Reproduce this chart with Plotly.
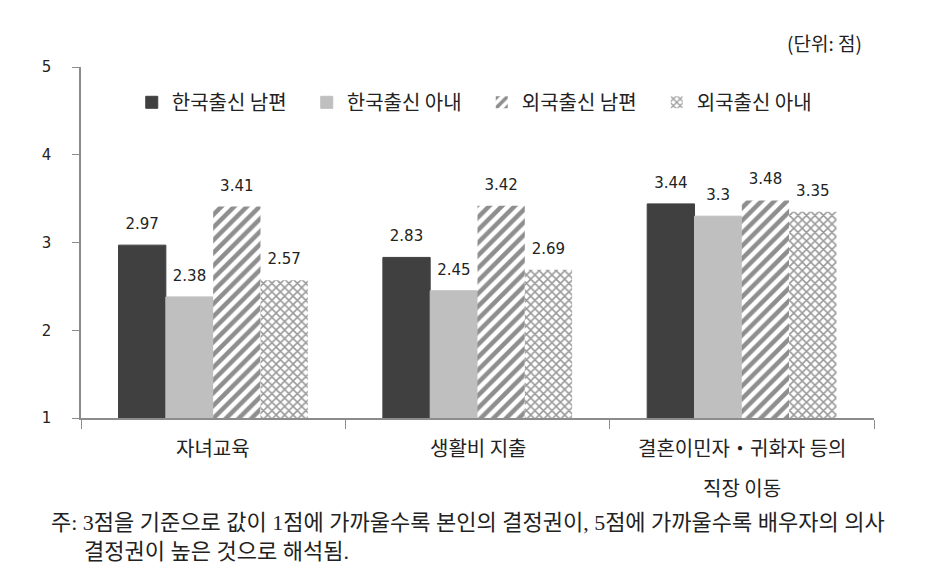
import plotly.graph_objects as go

categories = ["자녀교육", "생활비 지출", "결혼이민자・귀화자 등의 직장 이동"]
category_lines = [["자녀교육"], ["생활비 지출"], ["결혼이민자・귀화자 등의", "직장 이동"]]
series_names = ["한국출신 남편", "한국출신 아내", "외국출신 남편", "외국출신 아내"]
values_kr_husband = [2.97, 2.83, 3.44]
values_kr_wife = [2.38, 2.45, 3.30]
values_fr_husband = [3.41, 3.42, 3.48]
values_fr_wife = [2.57, 2.69, 3.35]
value_labels = [
    ["2.97", "2.83", "3.44"],
    ["2.38", "2.45", "3.3"],
    ["3.41", "3.42", "3.48"],
    ["2.57", "2.69", "3.35"],
]
y_ticks = [1, 2, 3, 4, 5]
unit_label = "(단위: 점)"
footnote_lines = [
    "주: 3점을 기준으로 값이 1점에 가까울수록 본인의 결정권이, 5점에 가까울수록 배우자의 의사",
    "      결정권이 높은 것으로 해석됨.",
]

FONT = "Noto Sans CJK KR, Noto Sans, sans-serif"
NUM = "DejaVu Sans, sans-serif"
SERIF = "Liberation Serif, Noto Sans CJK KR, serif"

styles = [
    dict(color="#404040", line=dict(color="#404040", width=1)),
    dict(color="#bfbfbf", line=dict(color="#bfbfbf", width=1)),
    dict(color="#ffffff", line=dict(color="#ffffff", width=0),
         pattern=dict(shape="/", fgcolor="#1e1e1e", bgcolor="#ffffff", size=9, solidity=0.5)),
    dict(color="#ffffff", line=dict(color="#ffffff", width=0),
         pattern=dict(shape="x", fgcolor="#333333", bgcolor="#ffffff", size=6, solidity=0.45)),
]
all_values = [values_kr_husband, values_kr_wife, values_fr_husband, values_fr_wife]

fig = go.Figure()
for i, (name, vals, st) in enumerate(zip(series_names, all_values, styles)):
    fig.add_trace(go.Bar(
        x=categories, y=[v - 1 for v in vals], base=1, name=name,
        marker=st, offsetgroup=str(i), hoverinfo="skip",
    ))
for i, (vals, labels) in enumerate(zip(all_values, value_labels)):
    fig.add_trace(go.Scatter(
        x=categories, y=vals, mode="markers+text", text=labels,
        textposition="top center", offsetgroup=str(i), showlegend=False,
        marker=dict(size=18, color="rgba(0,0,0,0)"),
        textfont=dict(family=NUM, size=15, color="#222222"),
        cliponaxis=False, hoverinfo="skip",
    ))

annotations = []
for cat, lines in zip(categories, category_lines):
    for i, line in enumerate(lines):
        annotations.append(dict(
            text=line, x=cat, xref="x", yref="paper", y=0, yshift=-29 - 40 * i,
            xanchor="center", yanchor="middle", showarrow=False,
            font=dict(family=FONT, size=20, color="#222222"),
        ))
annotations.append(dict(
    text=unit_label, xref="paper", yref="paper", x=1.0, y=1.0, yshift=25,
    xanchor="right", yanchor="middle", showarrow=False, xshift=-10,
    font=dict(family=FONT, size=19, color="#222222")))
annotations.append(dict(
    text=footnote_lines[0] + "<br>" + footnote_lines[1], xref="paper", yref="paper",
    x=-0.04, y=0, yshift=-90, xanchor="left", yanchor="top", align="left",
    showarrow=False, font=dict(family=SERIF, size=22, color="#222222")))

fig.update_layout(
    width=936, height=570,
    margin=dict(l=81, r=62, t=67, b=152),
    paper_bgcolor="white", plot_bgcolor="white",
    barmode="group", bargap=0.284, bargroupgap=0,
    scattermode="group", scattergap=0.284,
    font=dict(family=FONT, size=15, color="#222222"),
    showlegend=True,
    legend=dict(
        orientation="h", x=0.064, y=0.955, xanchor="left", yanchor="top",
        font=dict(family=FONT, size=20, color="#222222"),
        itemwidth=30, entrywidth=130, entrywidthmode="pixels",
        bgcolor="rgba(0,0,0,0)",
    ),
    xaxis=dict(
        type="category", showline=True, linecolor="#8c8c8c", linewidth=1.5,
        ticks="outside", tickson="boundaries", ticklen=9, tickcolor="#8c8c8c",
        showticklabels=False, showgrid=False,
    ),
    yaxis=dict(
        range=[1, 5], tickvals=y_ticks, showline=True, linecolor="#8c8c8c", linewidth=1.5,
        ticks="outside", ticklen=7, tickcolor="#8c8c8c", showgrid=False, zeroline=False,
        tickfont=dict(family=NUM, size=15, color="#222222"),
        ticklabelstandoff=18,
    ),
    annotations=annotations,
)

fig.write_html("out.html")
